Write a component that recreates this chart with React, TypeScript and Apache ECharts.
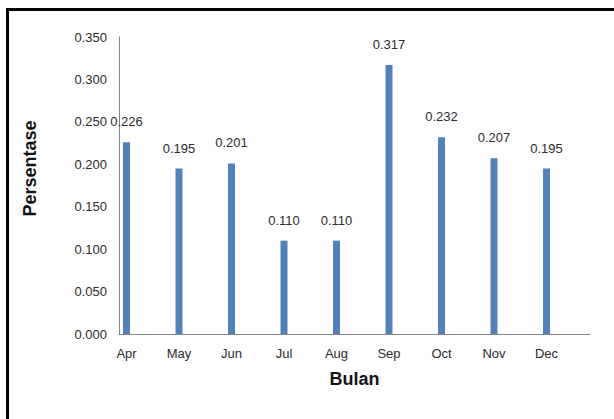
import React, { useEffect, useRef } from "react";
import * as echarts from "echarts";

const months = ["Apr", "May", "Jun", "Jul", "Aug", "Sep", "Oct", "Nov", "Dec"];
const persentase = [0.226, 0.195, 0.201, 0.11, 0.11, 0.317, 0.232, 0.207, 0.195];
const yMin = 0;
const yMax = 0.35;
const yStep = 0.05;

const FONT = "'Liberation Sans', Arial, sans-serif";
const TXT = "#2b2b2b";

export default function App() {
  const ref = useRef<HTMLDivElement>(null);
  useEffect(() => {
    if (!ref.current) return;
    const chart = echarts.init(ref.current, null, { renderer: "svg" });
    chart.setOption({
      animation: false,
      backgroundColor: "#ffffff",
      textStyle: { fontFamily: FONT },
      grid: [
        { left: 119, right: 24, top: 37, bottom: 85, containLabel: false },
        { left: 100.25, width: 472.5, top: 37, bottom: 85, containLabel: false },
      ],
      xAxis: [
        {
          gridIndex: 0,
          type: "value",
          min: 0,
          max: 1,
          axisLine: { show: true, lineStyle: { color: "#868686", width: 1 } },
          axisTick: { show: false },
          axisLabel: { show: false },
          splitLine: { show: false },
          name: "Bulan",
          nameLocation: "middle",
          nameGap: 36,
          nameTextStyle: { fontFamily: FONT, fontSize: 18, fontWeight: "bold", color: "#141414" },
        },
        {
          gridIndex: 1,
          type: "category",
          data: months,
          axisLine: { show: false },
          axisTick: { show: false },
          axisLabel: { margin: 13, fontSize: 13, color: TXT, fontFamily: FONT },
          splitLine: { show: false },
        },
      ],
      yAxis: [
        {
          gridIndex: 0,
          type: "value",
          min: yMin,
          max: yMax,
          interval: yStep,
          axisLine: { show: true, lineStyle: { color: "#868686", width: 1 } },
          axisTick: { show: false },
          splitLine: { show: false },
          axisLabel: {
            margin: 12,
            fontSize: 13,
            color: TXT,
            fontFamily: FONT,
            formatter: (v: number) => v.toFixed(3),
          },
          name: "Persentase",
          nameLocation: "middle",
          nameGap: 80,
          nameTextStyle: {
            fontFamily: FONT,
            fontSize: 18,
            fontWeight: "bold",
            color: "#141414",
            padding: [0, 0, 0, 34],
          },
        },
        {
          gridIndex: 1,
          type: "value",
          min: yMin,
          max: yMax,
          show: false,
        },
      ],
      series: [
        {
          type: "bar",
          xAxisIndex: 1,
          yAxisIndex: 1,
          data: persentase,
          barWidth: 7,
          itemStyle: { color: "#4F81BD" },
          label: {
            show: true,
            position: "top",
            distance: 14,
            fontSize: 13,
            color: TXT,
            fontFamily: FONT,
            formatter: (p: any) => Number(p.value).toFixed(3),
          },
        },
      ],
    });
    return () => chart.dispose();
  }, []);

  return (
    <div style={{ position: "fixed", left: 0, top: 0, width: 614, height: 419, background: "#fff" }}>
      <div ref={ref} style={{ position: "absolute", left: 0, top: 0, width: 614, height: 419 }} />
      <div
        style={{
          position: "absolute",
          left: 6,
          top: 8,
          width: 608,
          height: 411,
          borderTop: "3px solid #000",
          borderLeft: "3px solid #000",
          boxSizing: "border-box",
          pointerEvents: "none",
        }}
      />
    </div>
  );
}
